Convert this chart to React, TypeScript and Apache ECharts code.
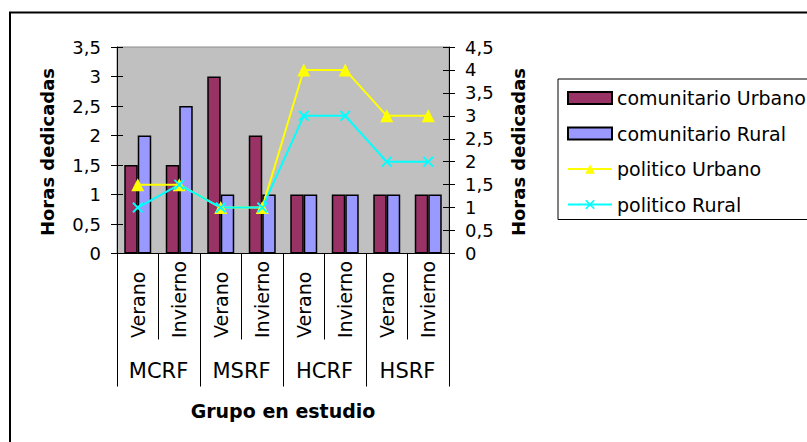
import React, { useEffect, useRef } from "react";
import * as echarts from "echarts";

const categories = ["Verano", "Invierno", "Verano", "Invierno", "Verano", "Invierno", "Verano", "Invierno"];
const groups = ["MCRF", "MSRF", "HCRF", "HSRF"];
const comunitarioUrbano = [1.5, 1.5, 3, 2, 1, 1, 1, 1];
const comunitarioRural = [2, 2.5, 1, 1, 1, 1, 1, 1];
const politicoUrbano = [1.5, 1.5, 1, 1, 4, 4, 3, 3];
const politicoRural = [1, 1.5, 1, 1, 3, 3, 2, 2];
const leftMax = 3.5;
const rightMax = 4.5;
const tickStep = 0.5;
const seriesNames = ["comunitario Urbano", "comunitario Rural", "politico Urbano", "politico Rural"];
const yTitle = "Horas dedicadas";
const xTitle = "Grupo en estudio";

const FONT = "DejaVu Sans";
const CROSS = "path://M0,1.2L1.2,0L5,3.8L8.8,0L10,1.2L6.2,5L10,8.8L8.8,10L5,6.2L1.2,10L0,8.8L3.8,5Z";

const fmt = (v: number) => String(v).replace(".", ",");

export default function App() {
  const ref = useRef<HTMLDivElement>(null);
  useEffect(() => {
    if (!ref.current) return;
    const chart = echarts.init(ref.current, undefined, { renderer: "svg" });
    const gridLeft = 117;
    const gridRight = 807 - 449;
    const gridTop = 47;
    const gridHeight = 206.5;
    const yAxisBase = (pos: "left" | "right", max: number) => ({
      type: "value" as const,
      position: pos,
      min: 0,
      max,
      interval: tickStep,
      splitLine: { show: false },
    });
    chart.setOption({
      animation: false,
      backgroundColor: "#ffffff",
      textStyle: { fontFamily: FONT, color: "#000" },
      grid: {
        left: gridLeft,
        right: gridRight,
        top: gridTop,
        height: gridHeight,
        show: true,
        backgroundColor: "#C0C0C0",
        borderColor: "#8a8a8a",
        borderWidth: 1,
      },
      legend: {
        orient: "vertical",
        left: 558,
        top: 79,
        padding: [9, 40, 5, 9],
        borderColor: "#000",
        borderWidth: 1,
        itemWidth: 44,
        itemHeight: 12,
        itemGap: 15.5,
        textStyle: { fontFamily: FONT, fontSize: 19, color: "#000", lineHeight: 20 },
        data: [
          { name: seriesNames[0], icon: "rect" },
          { name: seriesNames[1], icon: "rect" },
          { name: seriesNames[2] },
          { name: seriesNames[3] },
        ],
      },
      xAxis: [
        {
          type: "category",
          position: "bottom",
          data: categories,
          axisLine: { show: true, lineStyle: { color: "#000", width: 1 } },
          axisTick: { show: true, interval: 0, length: 86, lineStyle: { color: "#000" } },
          axisLabel: {
            interval: 0,
            rotate: 90,
            align: "left",
            verticalAlign: "middle",
            margin: 84.5,
            fontFamily: FONT,
            fontSize: 19,
            color: "#000",
          },
          splitLine: { show: false },
        },
        {
          type: "category",
          position: "bottom",
          data: groups,
          axisLine: { show: false },
          axisTick: { show: true, interval: 0, length: 133, lineStyle: { color: "#000" } },
          axisLabel: {
            interval: 0,
            margin: 107,
            fontFamily: FONT,
            fontSize: 21,
            color: "#000",
          },
          splitLine: { show: false },
        },
      ],
      yAxis: [
        {
          ...yAxisBase("left", leftMax),
          axisLine: { show: true, lineStyle: { color: "#000" } },
          axisTick: { show: true, length: 6, lineStyle: { color: "#000" } },
          axisLabel: { margin: 16, fontFamily: FONT, fontSize: 18, color: "#000", formatter: fmt },
        },
        {
          ...yAxisBase("right", rightMax),
          axisLine: { show: true, lineStyle: { color: "#000" } },
          axisTick: { show: true, length: 6, lineStyle: { color: "#000" } },
          axisLabel: { margin: 16, fontFamily: FONT, fontSize: 18, color: "#000", formatter: fmt },
        },
        {
          ...yAxisBase("left", leftMax),
          axisLine: { show: false },
          axisTick: { show: true, inside: true, length: 6, lineStyle: { color: "#000" } },
          axisLabel: { show: false },
        },
        {
          ...yAxisBase("right", rightMax),
          axisLine: { show: false },
          axisTick: { show: true, inside: true, length: 6, lineStyle: { color: "#000" } },
          axisLabel: { show: false },
        },
      ],
      series: [
        {
          name: seriesNames[0],
          type: "bar",
          xAxisIndex: 0,
          yAxisIndex: 0,
          data: comunitarioUrbano,
          barGap: "0%",
          barCategoryGap: "35%",
          itemStyle: { color: "#993366", borderColor: "#000", borderWidth: 1.5 },
        },
        {
          name: seriesNames[1],
          type: "bar",
          xAxisIndex: 0,
          yAxisIndex: 0,
          data: comunitarioRural,
          barGap: "0%",
          barCategoryGap: "35%",
          itemStyle: { color: "#9999FF", borderColor: "#000", borderWidth: 1.5 },
        },
        {
          name: seriesNames[2],
          type: "line",
          xAxisIndex: 0,
          yAxisIndex: 1,
          data: politicoUrbano,
          symbol: "triangle",
          symbolSize: 13,
          lineStyle: { color: "#FFFF00", width: 2 },
          itemStyle: { color: "#FFFF00" },
        },
        {
          name: seriesNames[3],
          type: "line",
          xAxisIndex: 0,
          yAxisIndex: 1,
          data: politicoRural,
          symbol: CROSS,
          symbolSize: 11,
          lineStyle: { color: "#00FFFF", width: 2 },
          itemStyle: { color: "#00FFFF" },
        },
      ],
      graphic: [
        {
          type: "rect",
          shape: { x: 10, y: 12.5, width: 900, height: 600 },
          style: { fill: "none", stroke: "#000", lineWidth: 2 },
          z: 100,
          silent: true,
        },
        {
          type: "text",
          x: 47,
          y: 152,
          rotation: Math.PI / 2,
          style: {
            text: yTitle,
            fontFamily: FONT,
            fontSize: 18,
            fontWeight: "bold",
            fill: "#000",
            align: "center",
            verticalAlign: "middle",
          },
        },
        {
          type: "text",
          x: 518,
          y: 152,
          rotation: Math.PI / 2,
          style: {
            text: yTitle,
            fontFamily: FONT,
            fontSize: 18,
            fontWeight: "bold",
            fill: "#000",
            align: "center",
            verticalAlign: "middle",
          },
        },
        {
          type: "text",
          x: 283,
          y: 411,
          style: {
            text: xTitle,
            fontFamily: FONT,
            fontSize: 19,
            fontWeight: "bold",
            fill: "#000",
            align: "center",
            verticalAlign: "middle",
          },
        },
      ],
    });
    return () => chart.dispose();
  }, []);
  return (
    <div
      ref={ref}
      style={{ position: "fixed", left: 0, top: 0, width: 807, height: 442 }}
    />
  );
}
